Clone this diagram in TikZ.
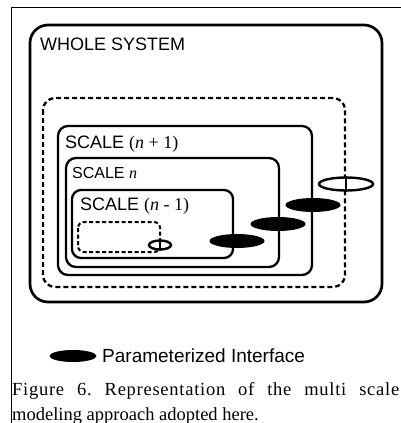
\documentclass[tikz,border=0pt]{standalone}
\usepackage{fontspec}
\setmainfont{Liberation Serif}
\setsansfont{Liberation Sans}
\newfontfamily\capfont[LetterSpace=4]{Liberation Serif}
\usetikzlibrary{shapes.geometric}

\begin{document}
\begin{tikzpicture}[x=1pt,y=-1pt,
    box/.style={black,line width=2.3pt,rounded corners=10pt},
    dbox/.style={black,line width=2.3pt,dash pattern=on 5pt off 3pt,rounded corners=12pt},
    ifc/.style={ellipse,fill=black,minimum width=55pt,minimum height=14pt,inner sep=0pt},
    ifcw/.style={ellipse,draw=black,fill=white,line width=2.4pt,inner sep=0pt},
    lbl/.style={anchor=base west,inner sep=0pt}]

      \useasboundingbox (0,0) rectangle (401,423);

      % frame of the figure
      \draw[black,line width=0.8pt] (402,7) -- (11,7) -- (11,424);

      % scales
      \draw[box,line width=2.7pt,rounded corners=18pt] (30,25) rectangle (382,302);
      \draw[dbox] (43,98) rectangle (345,287);
      \draw[box] (58,126) rectangle (312,275);
      \draw[box] (66,158) rectangle (279,267);
      \draw[box,rounded corners=9pt] (72,190) rectangle (233,258);
      \draw[dbox,line width=2pt,rounded corners=6pt,dash pattern=on 4pt off 2.5pt] (78,222) rectangle (160,252);

      \node[lbl,font=\sffamily\fontsize{18}{20}\selectfont] (whole) at (40,50) {WHOLE SYSTEM};
      \node[lbl,font=\sffamily\fontsize{18}{20}\selectfont] (scaleA) at (65,148) {SCALE {\rmfamily(\textit{n} + 1)}};
      \node[lbl,font=\sffamily\fontsize{16}{18}\selectfont] (scaleB) at (72,178) {SCALE {\rmfamily\textit{n}}};
      \node[lbl,font=\sffamily\fontsize{18}{20}\selectfont] (scaleC) at (80,210) {SCALE {\rmfamily(\textit{n} - 1)}};

      % interfaces
      \node[ifcw,minimum width=22pt,minimum height=9pt] (ifc0) at (160,245) {};
      \node[ifc] (ifc1) at (237,241) {};
      \node[ifc] (ifc2) at (278,224) {};
      \node[ifc] (ifc3) at (313,205) {};
      \node[ifcw,minimum width=54pt,minimum height=13pt] (ifc4) at (346,184) {};
      \draw[black,line width=1.8pt] (ifc0.north) -- (ifc0.south);
      \draw[black,line width=1.8pt] (ifc4.north) -- (ifc4.south);

      % legend
      \node[ifc,minimum width=47pt,minimum height=12pt] (key) at (73,356) {};
      \node[anchor=west,inner sep=0pt,font=\sffamily\fontsize{19}{21}\selectfont] (keytxt) at (102,356) {Parameterized Interface};

      % caption
      \node[lbl,font=\capfont\fontsize{18.5}{20}\selectfont\frenchspacing] (cap1) at (12,395) {\makebox[387pt][s]{Figure 6. Representation of the multi scale}};
      \node[lbl,font=\rmfamily\fontsize{18.5}{20}\selectfont] (cap2) at (12,420) {modeling approach adopted here.};

\end{tikzpicture}
\end{document}
